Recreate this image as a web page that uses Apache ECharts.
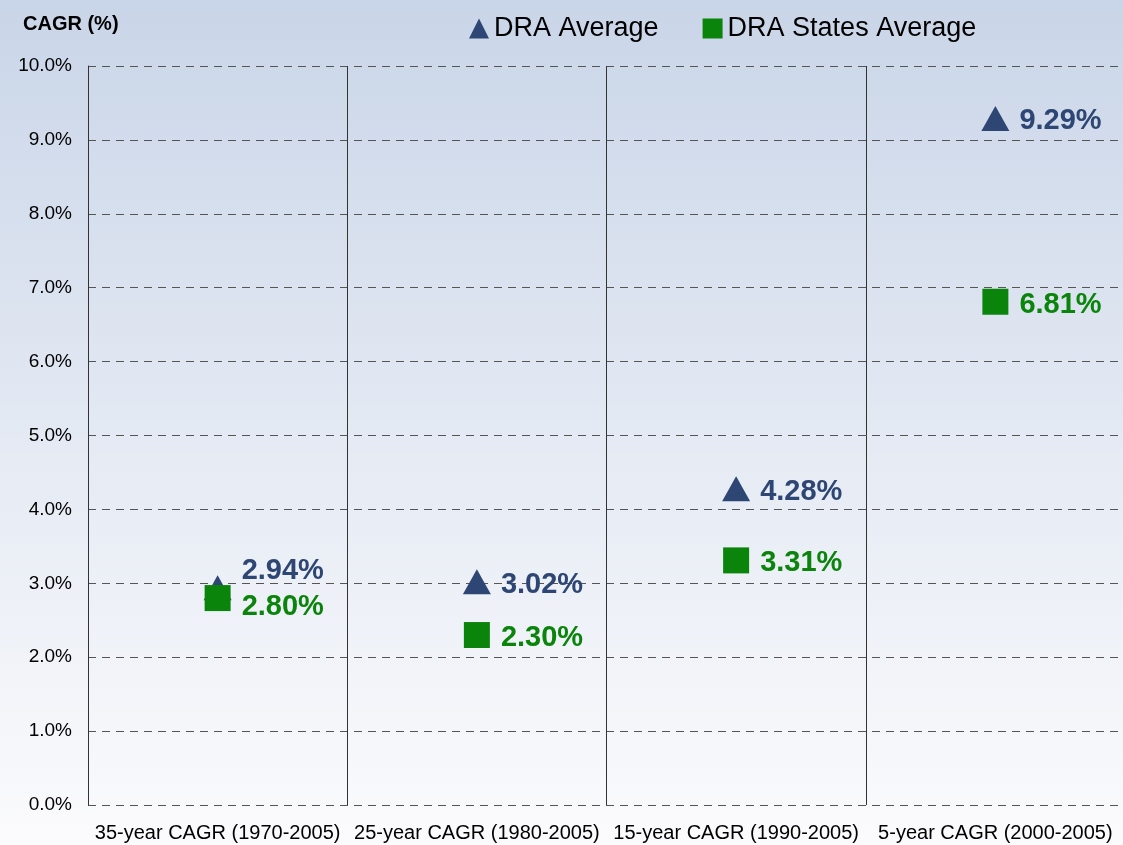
<!DOCTYPE html>
<html>
<head>
<meta charset="utf-8">
<script src="https://cdn.jsdelivr.net/npm/echarts@6/dist/echarts.min.js"></script>
<style>
  html, body { margin: 0; padding: 0; }
  #chart { width: 1123px; height: 845px; }
</style>
</head>
<body>
<div id="chart"></div>
<script>
const categories = ['35-year CAGR (1970-2005)', '25-year CAGR (1980-2005)', '15-year CAGR (1990-2005)', '5-year CAGR (2000-2005)'];
const draAverage = [2.94, 3.02, 4.28, 9.29];
const draStatesAverage = [2.80, 2.30, 3.31, 6.81];
const yTicks = [0, 1, 2, 3, 4, 5, 6, 7, 8, 9, 10];

const font = 'Liberation Sans';
const navy = '#2E4673';
const green = '#0B840B';

// first category's labels are nudged apart so they don't overlap
const labelNudge = (i, dy) => (i === 0 ? dy : 0) + 3;

const chart = echarts.init(document.getElementById('chart'));

chart.setOption({
  backgroundColor: {
    type: 'linear', x: 0, y: 0, x2: 0, y2: 1,
    colorStops: [
      { offset: 0, color: '#C9D5E8' },
      { offset: 0.55, color: '#E6EBF4' },
      { offset: 1, color: '#FBFBFD' },
    ],
  },
  textStyle: { fontFamily: font },
  title: {
    text: 'CAGR (%)',
    left: 18, top: 9,
    textStyle: { fontSize: 20, fontWeight: 'bold', color: '#000', fontFamily: font },
  },
  legend: {
    top: 10, left: 464,
    itemGap: 44,
    itemWidth: 20, itemHeight: 20,
    textStyle: { fontSize: 27, color: '#000', fontFamily: font },
    data: [
      { name: 'DRA Average', icon: 'triangle', itemStyle: { color: navy, opacity: 1 } },
      { name: 'DRA States Average', icon: 'rect', itemStyle: { color: green, opacity: 1 } },
    ],
  },
  grid: { left: 88, top: 66, bottom: 40, width: 1037, outerBoundsMode: 'none', containLabel: false },
  xAxis: {
    type: 'category',
    data: categories,
    boundaryGap: true,
    axisLine: { show: false },
    axisTick: { show: false },
    axisLabel: { fontSize: 20, color: '#000', margin: 18, interval: 0, fontFamily: font },
    splitLine: { show: true, lineStyle: { color: '#333', width: 1, type: 'solid' } },
  },
  yAxis: {
    type: 'value',
    min: 0, max: 10, interval: 1,
    axisLine: { show: true, lineStyle: { color: '#333' } },
    axisTick: { show: false },
    axisLabel: {
      fontSize: 19, color: '#000', margin: 16, fontFamily: font,
      formatter: (v) => (yTicks.includes(v) ? v.toFixed(1) + '%' : ''),
    },
    splitLine: { show: true, lineStyle: { color: '#555', type: [8, 6], width: 1 } },
  },
  series: [
    {
      name: 'DRA Average',
      type: 'scatter',
      symbol: 'triangle',
      symbolSize: [28, 25],
      itemStyle: { color: navy, opacity: 1 },
      z: 2,
      data: draAverage.map((v, i) => ({
        value: v,
        label: { offset: [0, labelNudge(i, -20)] },
      })),
      label: {
        show: true, position: 'right', distance: 10,
        fontSize: 29, fontWeight: 'bold', color: navy, fontFamily: font,
        formatter: (p) => p.value.toFixed(2) + '%',
      },
    },
    {
      name: 'DRA States Average',
      type: 'scatter',
      symbol: 'rect',
      symbolSize: 26,
      itemStyle: { color: green, opacity: 1 },
      z: 3,
      data: draStatesAverage.map((v, i) => ({
        value: v,
        label: { offset: [0, labelNudge(i, 6)] },
      })),
      label: {
        show: true, position: 'right', distance: 11,
        fontSize: 29, fontWeight: 'bold', color: green, fontFamily: font,
        formatter: (p) => p.value.toFixed(2) + '%',
      },
    },
  ],
});
</script>
</body>
</html>
